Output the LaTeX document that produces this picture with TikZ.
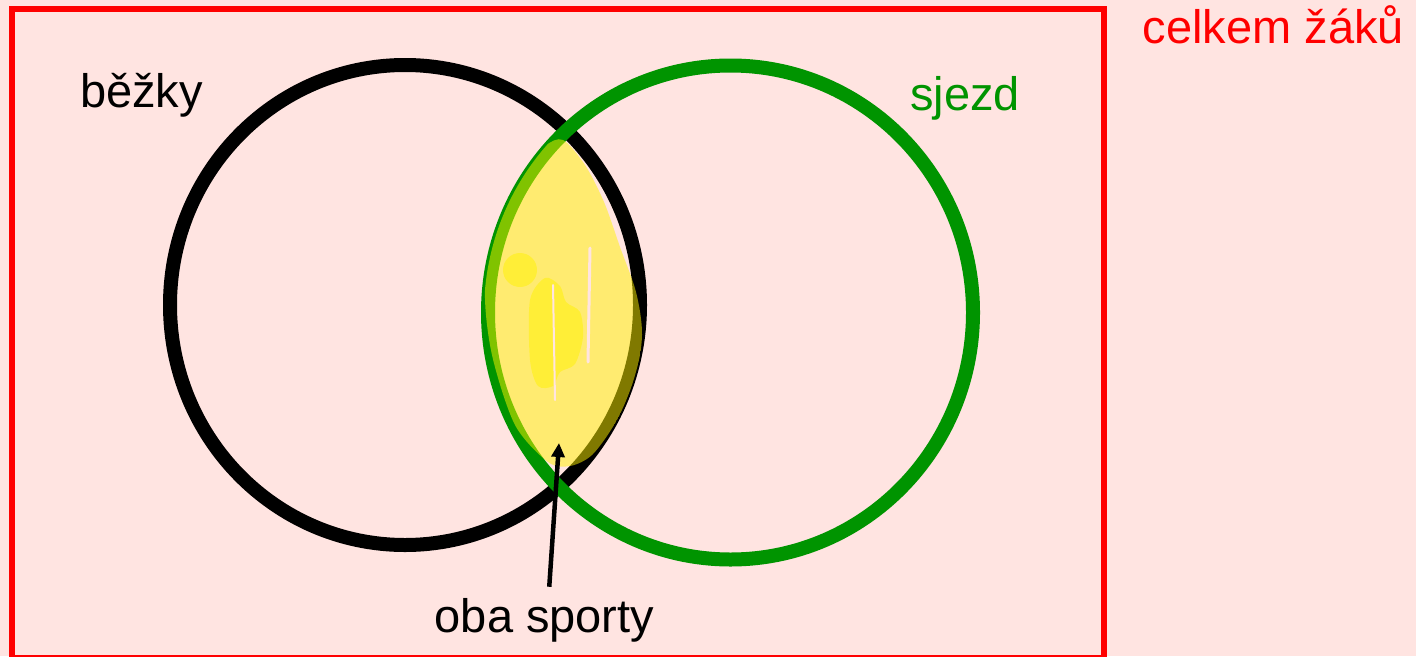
\documentclass[tikz,border=0pt]{standalone}
\usepackage{fontspec}
\setmainfont{Liberation Sans}
\usetikzlibrary{arrows.meta}
\definecolor{mypink}{HTML}{FFE4E1}
\definecolor{mygreen}{HTML}{009400}
\definecolor{myred}{HTML}{FF0000}

\begin{document}
\begin{tikzpicture}[x=1pt,y=-1pt,
	setname/.style={anchor=base,inner sep=0pt,font=\fontsize{47}{56}\selectfont},
	ring/.style={line width=14pt},
	marker/.style={fill=yellow,fill opacity=.5}]
	%% background and the frame for all pupils
	\useasboundingbox (0,0) rectangle (1416,656);
	\fill[mypink] (0,0) rectangle (1416,656);
	\draw[myred, line width=6pt] (12,9) rectangle (1104,658);
	%% the two sets, green one lies on top
	\coordinate (bcen) at (405,305);
	\coordinate (scen) at (730.5,312.5);
	\draw[ring, black] (bcen) ellipse (235pt and 240pt);
	\draw[ring, mygreen] (scen) ellipse (242.5pt and 247pt);
	%% highlighter over the intersection, half transparent so the rings shine through
	\begin{scope}
		\clip (scen) ellipse (246.5pt and 251pt);
		\clip (bcen) ellipse (240pt and 245pt);
		\fill[marker] plot[smooth cycle] coordinates {(563,140) (585,165) (604,202) (620,247)
			(636,292) (642,335) (634,385) (614,425) (592,455) (570,466) (548,462)
			(515,425) (492,355) (485,290) (496,222) (520,172) (545,146)};
		\fill[marker] (520,270) circle (17pt);
		\fill[marker] plot[smooth cycle] coordinates {(545,278) (560,286) (566,302) (580,312)
			(583,337) (575,364) (560,372) (553,386) (538,386) (530,360) (530,300)};
	\end{scope}
	\draw[mypink, line width=3pt, line cap=round] (590,248) -- (588,362);
	\draw[mypink, line width=2pt, line cap=round] (553,285) -- (555,400);
	%% labels
	\node[setname, color=black] (bezky) at (141.5,107) {běžky};
	\node[setname, color=mygreen] (sjezd) at (965,110) {sjezd};
	\node[setname, color=myred] (celkem) at (1273.5,43) {celkem žáků};
	\node[setname, color=black] (oba) at (544.5,632) {oba sporty};
	\coordinate (tip) at (559,443);
	\draw[line width=4.5pt, -{Triangle[length=14pt,width=13pt]}, shorten <=11pt] ([xshift=4pt]oba.north) -- (tip);
\end{tikzpicture}
\end{document}
